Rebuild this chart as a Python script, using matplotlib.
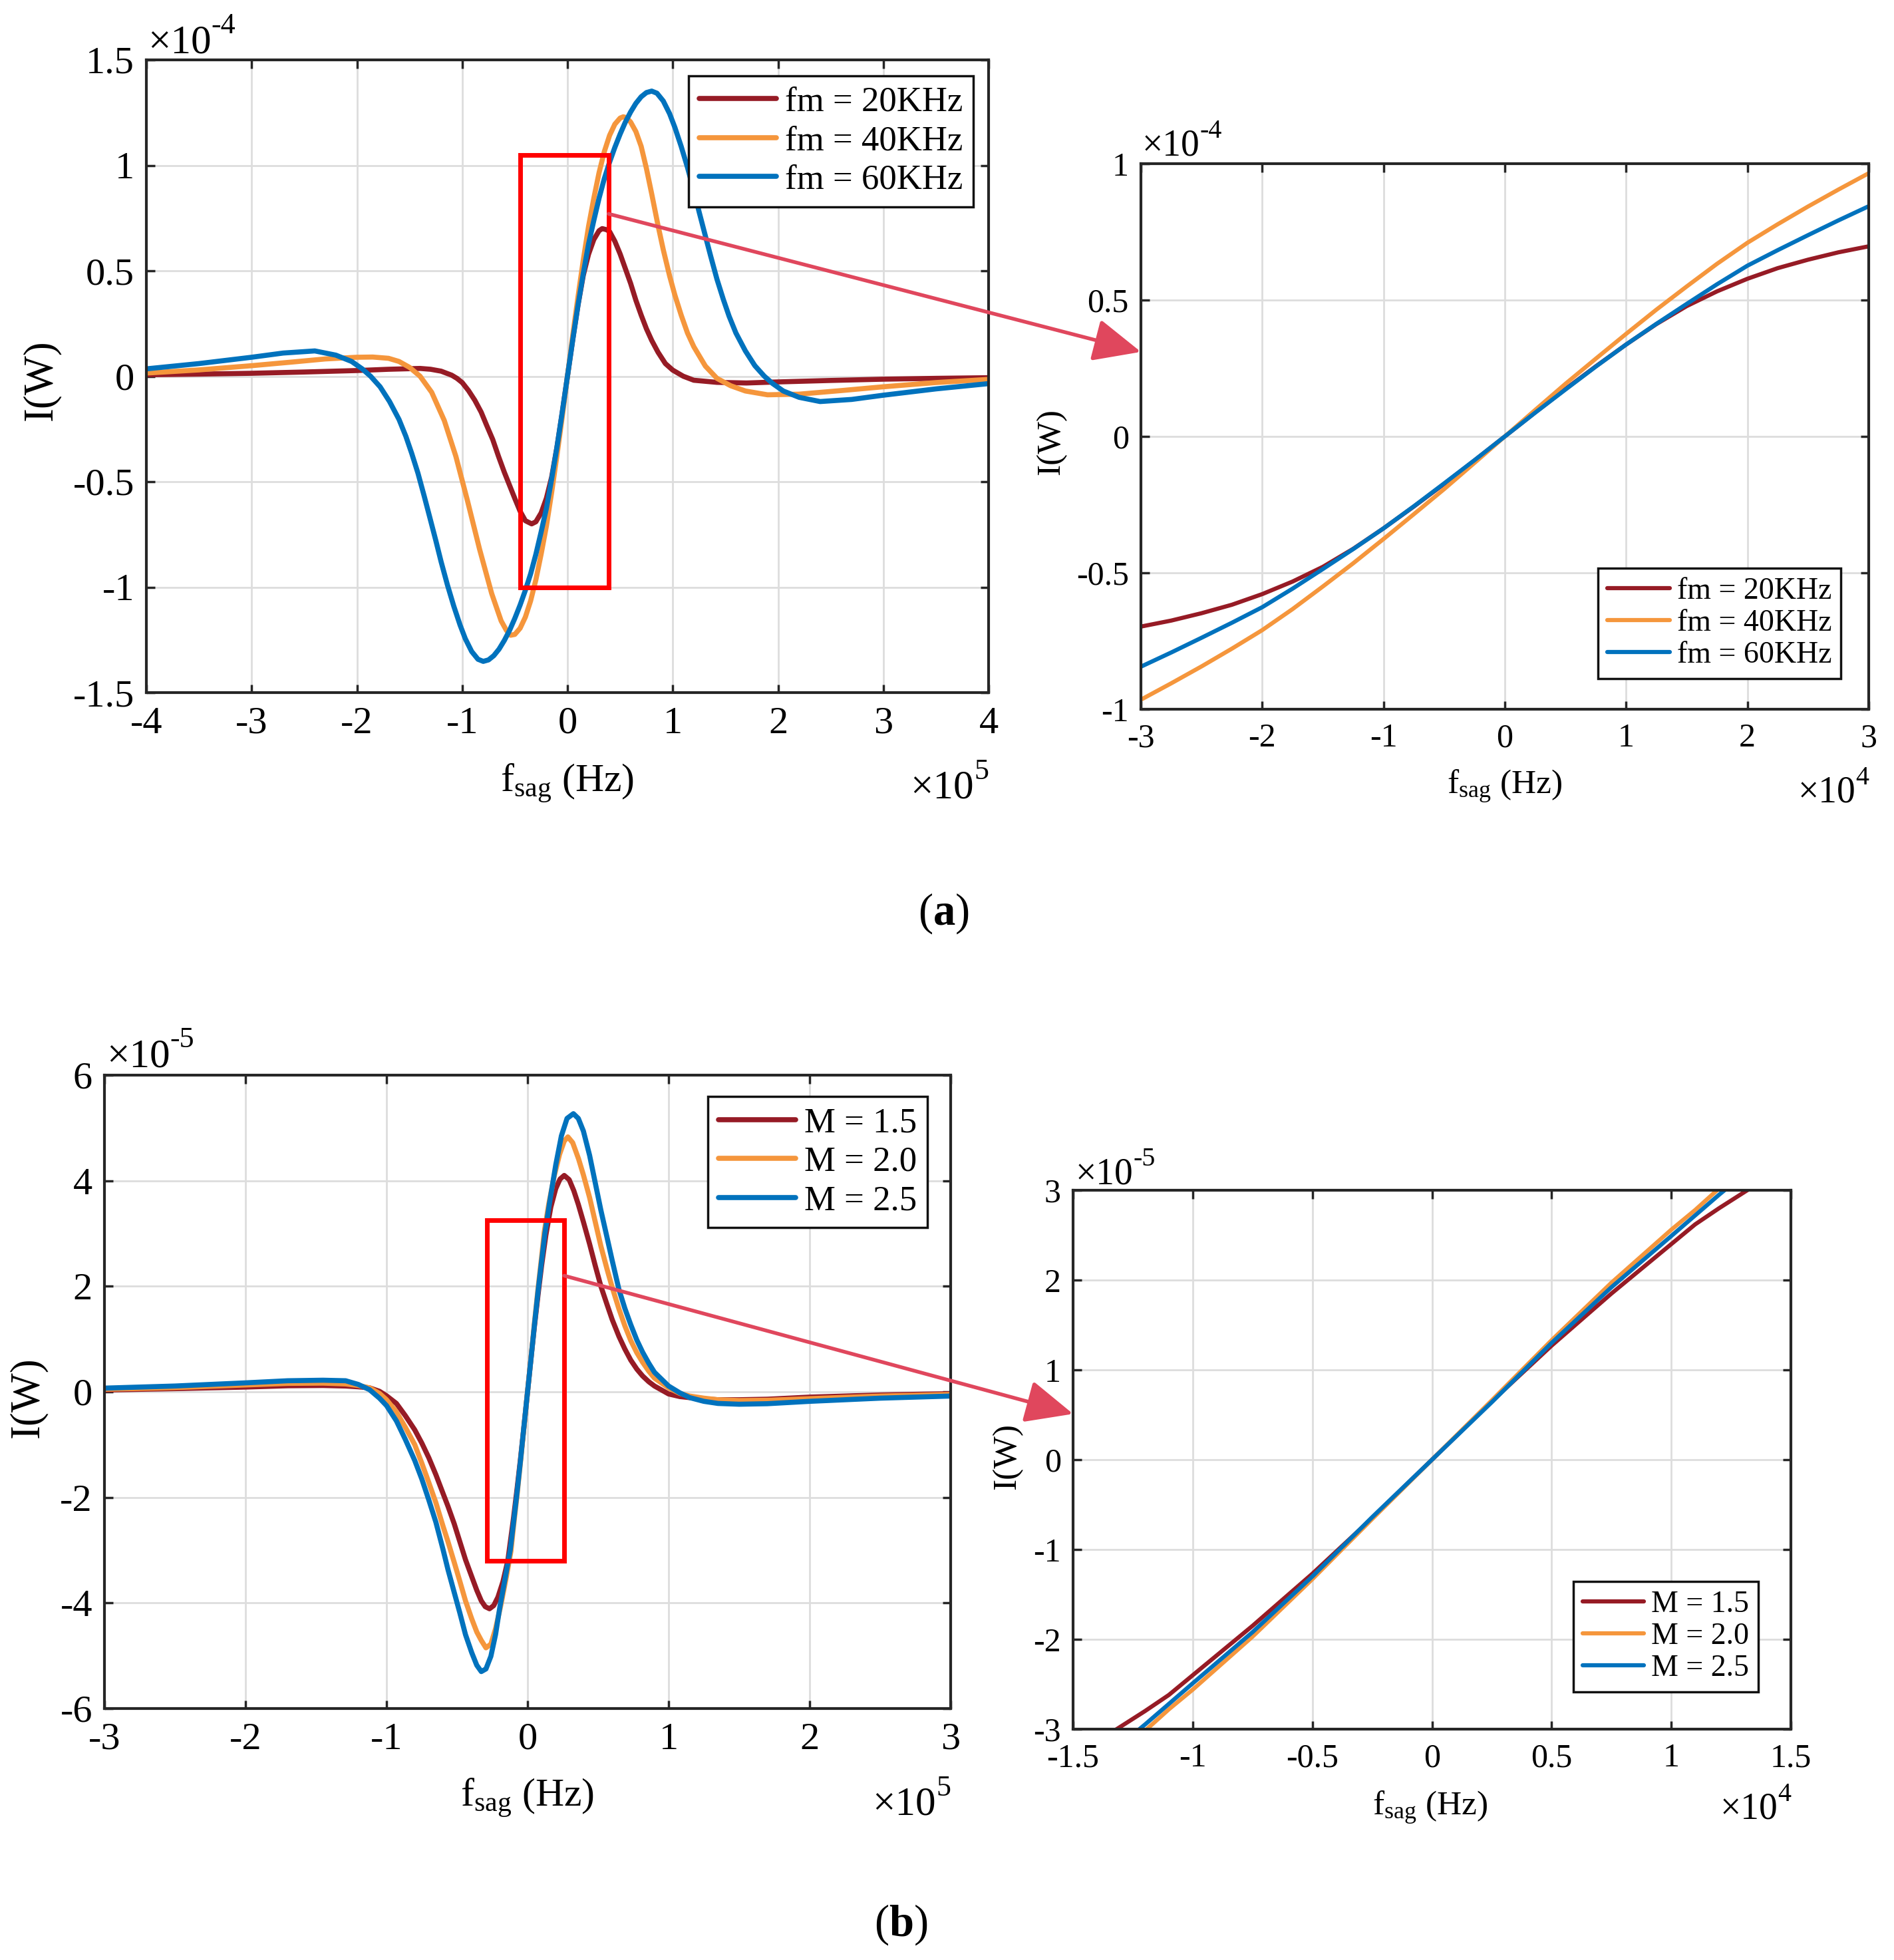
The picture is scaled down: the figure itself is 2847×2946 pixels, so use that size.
import matplotlib
matplotlib.use("Agg")
import matplotlib.pyplot as plt
from matplotlib.patches import Rectangle, ConnectionPatch, ArrowStyle

plt.rcParams['font.family'] = ['Liberation Serif', 'DejaVu Serif']
plt.rcParams['mathtext.fontset'] = 'custom'
plt.rcParams['mathtext.rm'] = 'Liberation Serif'
plt.rcParams['mathtext.it'] = 'Liberation Serif:italic'
plt.rcParams['mathtext.bf'] = 'Liberation Serif:bold'
plt.rcParams['axes.unicode_minus'] = False

# ---------------- DATA ----------------
# Panel (a) main: x in 1e5 Hz, y in 1e-4 W
labels_a = ['fm = 20KHz', 'fm = 40KHz', 'fm = 60KHz']
xa_20 = [-4.0, -3.5, -3.0, -2.5, -2.0, -1.7, -1.4, -1.3, -1.2, -1.1, -1.05, -1.0, -0.94, -0.88, -0.82, -0.77,
         -0.71, -0.655, -0.6, -0.54, -0.5, -0.45, -0.4, -0.34, -0.3, -0.25, -0.2, -0.15, -0.1, -0.05, 0.0,
         0.05, 0.1, 0.15, 0.2, 0.25, 0.3, 0.33, 0.37, 0.4, 0.45, 0.5, 0.55, 0.6, 0.65, 0.7, 0.75, 0.8,
         0.86, 0.93, 1.0, 1.1, 1.2, 1.42, 1.7, 2.0, 2.5, 3.0, 3.5, 4.0]
ya_20 = [0.007, 0.01, 0.014, 0.02, 0.027, 0.033, 0.037, 0.033, 0.024, 0.005, -0.01, -0.03, -0.068, -0.114, -0.17, -0.23,
         -0.30, -0.38, -0.455, -0.53, -0.58, -0.64, -0.685, -0.70, -0.69, -0.648, -0.578, -0.478, -0.337, -0.174, 0.0,
         0.174, 0.337, 0.478, 0.578, 0.648, 0.69, 0.70, 0.695, 0.686, 0.64, 0.58, 0.51, 0.44, 0.36, 0.29, 0.225, 0.17,
         0.114, 0.06, 0.029, 0.0, -0.019, -0.029, -0.032, -0.027, -0.02, -0.014, -0.01, -0.007]
xa_40 = [-4.0, -3.5, -3.0, -2.6, -2.3, -2.0, -1.85, -1.7, -1.6, -1.5, -1.4, -1.29, -1.17, -1.06, -0.95, -0.835,
         -0.72, -0.63, -0.58, -0.54, -0.5, -0.45, -0.4, -0.35, -0.3, -0.25, -0.2, -0.15, -0.1, -0.05, 0.0,
         0.05, 0.1, 0.15, 0.2, 0.25, 0.3, 0.35, 0.4, 0.45, 0.5, 0.53, 0.56, 0.6, 0.65, 0.7, 0.75, 0.8, 0.858,
         0.91, 0.97, 1.02, 1.08, 1.14, 1.2, 1.31, 1.42, 1.55, 1.69, 1.9, 2.2, 2.6, 3.0, 3.5, 4.0]
ya_40 = [0.015, 0.03, 0.05, 0.068, 0.082, 0.09, 0.091, 0.085, 0.07, 0.042, 0.0, -0.076, -0.21, -0.38, -0.59, -0.82,
         -1.03, -1.16, -1.205, -1.228, -1.224, -1.195, -1.142, -1.065, -0.965, -0.843, -0.71, -0.55, -0.376, -0.193, 0.0,
         0.193, 0.376, 0.55, 0.71, 0.843, 0.965, 1.065, 1.142, 1.195, 1.224, 1.23, 1.226, 1.205, 1.16, 1.09, 0.985, 0.865, 0.72,
         0.60, 0.476, 0.385, 0.29, 0.205, 0.14, 0.048, -0.01, -0.045, -0.07, -0.088, -0.085, -0.068, -0.05, -0.03, -0.015]
xa_60 = [-4.0, -3.5, -3.0, -2.7, -2.4, -2.2, -2.05, -1.95, -1.87, -1.78, -1.69, -1.6, -1.535, -1.48, -1.42, -1.36,
         -1.31, -1.25, -1.2, -1.14, -1.08, -1.02, -0.97, -0.91, -0.85, -0.8, -0.75, -0.7, -0.65, -0.6, -0.55, -0.5,
         -0.45, -0.4, -0.35, -0.3, -0.25, -0.2, -0.15, -0.1, -0.05, 0.0,
         0.05, 0.1, 0.15, 0.2, 0.25, 0.3, 0.35, 0.4, 0.45, 0.5, 0.55, 0.6, 0.65, 0.7, 0.75, 0.8, 0.85, 0.91, 0.97,
         1.02, 1.08, 1.14, 1.2, 1.25, 1.31, 1.36, 1.42, 1.48, 1.535, 1.6, 1.69, 1.78, 1.87, 1.95, 2.05, 2.2, 2.4,
         2.7, 3.0, 3.5, 4.0]
ya_60 = [0.035, 0.06, 0.09, 0.11, 0.12, 0.10, 0.07, 0.035, 0.0, -0.05, -0.12, -0.205, -0.285, -0.365, -0.46, -0.57,
         -0.665, -0.78, -0.88, -0.99, -1.09, -1.18, -1.245, -1.305, -1.342, -1.352, -1.345, -1.325, -1.294, -1.253, -1.205, -1.148,
         -1.085, -1.015, -0.937, -0.844, -0.738, -0.626, -0.486, -0.337, -0.172, 0.0,
         0.172, 0.337, 0.486, 0.626, 0.738, 0.844, 0.937, 1.015, 1.085, 1.148, 1.205, 1.253, 1.294, 1.325, 1.345, 1.352, 1.342, 1.305, 1.245,
         1.18, 1.09, 0.99, 0.88, 0.78, 0.665, 0.57, 0.46, 0.365, 0.285, 0.205, 0.12, 0.05, 0.0, -0.035, -0.07, -0.10, -0.12,
         -0.11, -0.09, -0.06, -0.035]

# Panel (a) zoom: x in 1e4 Hz, y in 1e-4 W
xz_a = [-3.0, -2.75, -2.5, -2.25, -2.0, -1.75, -1.5, -1.25, -1.0, -0.75, -0.5, -0.25, 0.0,
        0.25, 0.5, 0.75, 1.0, 1.25, 1.5, 1.75, 2.0, 2.25, 2.5, 2.75, 3.0]
yz_a20 = [-0.697, -0.675, -0.648, -0.617, -0.578, -0.532, -0.478, -0.412, -0.337, -0.257, -0.174, -0.088, 0.0,
          0.088, 0.174, 0.257, 0.337, 0.412, 0.478, 0.532, 0.578, 0.617, 0.648, 0.675, 0.697]
yz_a40 = [-0.965, -0.905, -0.843, -0.778, -0.710, -0.633, -0.550, -0.465, -0.376, -0.285, -0.193, -0.097, 0.0,
          0.097, 0.193, 0.285, 0.376, 0.465, 0.550, 0.633, 0.710, 0.778, 0.843, 0.905, 0.965]
yz_a60 = [-0.844, -0.792, -0.738, -0.683, -0.626, -0.558, -0.486, -0.413, -0.337, -0.256, -0.172, -0.087, 0.0,
          0.087, 0.172, 0.256, 0.337, 0.413, 0.486, 0.558, 0.626, 0.683, 0.738, 0.792, 0.844]

# Panel (b) main: x in 1e5 Hz, y in 1e-5 W
labels_b = ['M = 1.5', 'M = 2.0', 'M = 2.5']
xb_15 = [-3.0, -2.5, -2.0, -1.7, -1.45, -1.29, -1.2, -1.12, -1.05, -1.0, -0.93, -0.867, -0.8, -0.75, -0.7,
         -0.65, -0.6, -0.564, -0.52, -0.48, -0.44, -0.396, -0.36, -0.328, -0.3, -0.27, -0.24, -0.21, -0.175,
         -0.14, -0.1, -0.075, -0.05, -0.025, 0.0,
         0.025, 0.05, 0.075, 0.1, 0.13, 0.165, 0.2, 0.23, 0.26, 0.295, 0.328, 0.36, 0.396, 0.44, 0.48, 0.52,
         0.564, 0.6, 0.648, 0.69, 0.732, 0.775, 0.816, 0.86, 0.9, 1.0, 1.08, 1.15, 1.25, 1.35, 1.5, 1.7, 2.0,
         2.5, 3.0]
yb_15 = [0.035, 0.06, 0.09, 0.115, 0.12, 0.11, 0.095, 0.075, 0.01, -0.075, -0.22, -0.45, -0.72, -0.97, -1.25,
         -1.57, -1.92, -2.17, -2.5, -2.84, -3.18, -3.5, -3.76, -3.96, -4.07, -4.11, -4.05, -3.89, -3.6,
         -3.2, -2.40, -1.85, -1.27, -0.65, 0.0,
         0.65, 1.27, 1.85, 2.40, 2.97, 3.5, 3.85, 4.03, 4.10, 4.02, 3.81, 3.55, 3.22, 2.80, 2.39, 2.0,
         1.65, 1.37, 1.05, 0.81, 0.6, 0.43, 0.3, 0.19, 0.11, -0.04, -0.09, -0.11, -0.135, -0.15, -0.15, -0.14, -0.10,
         -0.06, -0.035]
xb_20 = [-3.0, -2.5, -2.0, -1.7, -1.45, -1.29, -1.2, -1.12, -1.05, -1.0, -0.93, -0.867, -0.8, -0.75, -0.7,
         -0.65, -0.6, -0.564, -0.52, -0.48, -0.44, -0.396, -0.36, -0.328, -0.295, -0.26, -0.227, -0.19, -0.15,
         -0.118, -0.1, -0.075, -0.05, -0.025, 0.0,
         0.025, 0.05, 0.075, 0.1, 0.118, 0.15, 0.19, 0.227, 0.26, 0.286, 0.32, 0.362, 0.396, 0.44, 0.48, 0.52,
         0.564, 0.6, 0.648, 0.69, 0.732, 0.775, 0.816, 0.86, 0.9, 1.0, 1.08, 1.15, 1.25, 1.35, 1.5, 1.7, 2.0,
         2.5, 3.0]
yb_20 = [0.05, 0.08, 0.13, 0.16, 0.165, 0.15, 0.12, 0.075, -0.03, -0.15, -0.38, -0.67, -1.0, -1.35, -1.72,
         -2.1, -2.54, -2.84, -3.23, -3.59, -3.96, -4.3, -4.55, -4.71, -4.85, -4.78, -4.49, -4.05, -3.5,
         -3.02, -2.56, -1.97, -1.33, -0.66, 0.0,
         0.66, 1.33, 1.97, 2.56, 3.02, 3.55, 4.1, 4.5, 4.75, 4.83, 4.72, 4.41, 4.11, 3.68, 3.22, 2.76,
         2.32, 1.98, 1.57, 1.25, 0.97, 0.74, 0.56, 0.39, 0.26, 0.075, -0.03, -0.08, -0.12, -0.15, -0.165, -0.16, -0.13,
         -0.08, -0.05]
xb_25 = [-3.0, -2.5, -2.0, -1.7, -1.45, -1.29, -1.2, -1.12, -1.05, -1.0, -0.93, -0.867, -0.8, -0.75, -0.7,
         -0.65, -0.6, -0.564, -0.52, -0.48, -0.44, -0.396, -0.36, -0.328, -0.295, -0.26, -0.227, -0.194, -0.16,
         -0.123, -0.1, -0.075, -0.05, -0.025, 0.0,
         0.025, 0.05, 0.075, 0.1, 0.123, 0.16, 0.2, 0.24, 0.28, 0.325, 0.36, 0.396, 0.44, 0.48, 0.52,
         0.564, 0.6, 0.648, 0.69, 0.732, 0.775, 0.816, 0.86, 0.9, 1.0, 1.08, 1.15, 1.25, 1.35, 1.5, 1.7, 2.0,
         2.5, 3.0]
yb_25 = [0.07, 0.11, 0.17, 0.21, 0.22, 0.21, 0.14, 0.04, -0.12, -0.26, -0.55, -0.9, -1.3, -1.65, -2.05,
         -2.47, -2.98, -3.37, -3.8, -4.19, -4.6, -4.94, -5.18, -5.3, -5.25, -5.01, -4.6, -4.04, -3.55,
         -3.0, -2.49, -1.92, -1.30, -0.64, 0.0,
         0.64, 1.30, 1.92, 2.49, 3.0, 3.65, 4.3, 4.85, 5.18, 5.27, 5.18, 4.94, 4.48, 3.96, 3.44,
         2.92, 2.49, 1.94, 1.58, 1.27, 0.98, 0.75, 0.54, 0.37, 0.11, -0.02, -0.11, -0.18, -0.22, -0.235, -0.225, -0.18,
         -0.12, -0.08]

# Panel (b) zoom: x in 1e4 Hz, y in 1e-5 W
xz_b = [-1.4, -1.3, -1.2, -1.1, -1.0, -0.75, -0.5, -0.25, 0.0, 0.25, 0.5, 0.75, 1.0, 1.1, 1.2, 1.3, 1.4]
yz_b15 = [-3.14, -2.97, -2.80, -2.62, -2.40, -1.85, -1.27, -0.65, 0.0, 0.65, 1.27, 1.85, 2.40, 2.62, 2.80, 2.97, 3.14]
yz_b20 = [-3.50, -3.26, -3.02, -2.78, -2.56, -1.97, -1.33, -0.66, 0.0, 0.66, 1.33, 1.97, 2.56, 2.78, 3.02, 3.26, 3.50]
yz_b25 = [-3.40, -3.17, -2.95, -2.72, -2.49, -1.92, -1.30, -0.64, 0.0, 0.64, 1.30, 1.92, 2.49, 2.72, 2.95, 3.17, 3.40]

# ticks
xt_a = [-4, -3, -2, -1, 0, 1, 2, 3, 4]
yt_a = [-1.5, -1, -0.5, 0, 0.5, 1, 1.5]
xt_az = [-3, -2, -1, 0, 1, 2, 3]
yt_az = [-1, -0.5, 0, 0.5, 1]
xt_b = [-3, -2, -1, 0, 1, 2, 3]
yt_b = [-6, -4, -2, 0, 2, 4, 6]
xt_bz = [-1.5, -1, -0.5, 0, 0.5, 1, 1.5]
yt_bz = [-3, -2, -1, 0, 1, 2, 3]

colors = ['#961B25', '#F5963C', '#0072BD']

# ---------------- FIGURE ----------------
W, H = 2847, 2946
fig = plt.figure(figsize=(W / 100, H / 100), dpi=100)
fig.patch.set_facecolor('white')


def rect(x0, y0, x1, y1):
    return [x0 / W, 1 - y1 / H, (x1 - x0) / W, (y1 - y0) / H]


def lab(v):
    return ('%g' % v)


def style(ax, xt, yt, xl, yl, fs, pad_x, pad_y):
    ax.set_xticks(xt, [lab(v) for v in xt])
    ax.set_yticks(yt, [lab(v) for v in yt])
    ax.set_xlim(xl)
    ax.set_ylim(yl)
    ax.tick_params(direction='in', top=True, right=True, length=9, width=2.5,
                   color='#262626', labelsize=fs)
    ax.tick_params(axis='x', pad=pad_x)
    ax.tick_params(axis='y', pad=pad_y)
    ax.grid(True, color='#DDDDDD', lw=2)
    ax.set_axisbelow(True)
    for s in ax.spines.values():
        s.set_linewidth(3)
        s.set_color('#262626')


def ftext(x, y, s, **kw):
    return fig.text(x / W, 1 - y / H, s, **kw)


renderer = fig.canvas.get_renderer()


def sci(xpx, ypx, exp, fs, align):
    t1 = fig.text(0, 0, '\u00d710', fontsize=fs, ha='left', va='baseline')
    t2 = fig.text(0, 0, exp, fontsize=fs * 0.72, ha='left', va='baseline')
    w1 = t1.get_window_extent(renderer).width
    w2 = t2.get_window_extent(renderer).width
    x0 = xpx if align == 'left' else xpx - w1 - w2
    t1.set_position((x0 / W, 1 - ypx / H))
    t2.set_position(((x0 + w1) / W, 1 - (ypx - fs * 0.48 * 100 / 72) / H))


leg_kw = dict(frameon=True, fancybox=False, framealpha=1, edgecolor='#111111',
              borderpad=0.3, handletextpad=0.25, borderaxespad=0)
line_kw = dict(solid_capstyle='round', solid_joinstyle='round')

# ---- (a) main
axA = fig.add_axes(rect(220, 90, 1486, 1041))
for xs, ys, c, l in zip([xa_20, xa_40, xa_60], [ya_20, ya_40, ya_60], colors, labels_a):
    axA.plot(xs, ys, color=c, lw=5.5, label=l, **line_kw)
style(axA, xt_a, yt_a, (-4, 4), (-1.5, 1.5), 42, 15, 13)
lg = axA.legend(loc='upper right', bbox_to_anchor=(0.982, 0.975), fontsize=38, handlelength=2.2,
                labelspacing=0.2, **leg_kw)
lg.get_frame().set_linewidth(2.5)
axA.add_patch(Rectangle((-0.45, -1.0), 0.84, 2.05, fill=False, ec='#FF0000', lw=5, zorder=5))

# ---- (a) zoom
axA2 = fig.add_axes(rect(1715, 246, 2809, 1066))
for ys, c, l in zip([yz_a20, yz_a40, yz_a60], colors, labels_a):
    axA2.plot(xz_a, ys, color=c, lw=4.5, label=l, **line_kw)
style(axA2, xt_az, yt_az, (-3, 3), (-1, 1), 36, 15, 13)
lg = axA2.legend(loc='lower right', bbox_to_anchor=(0.962, 0.056), fontsize=33, handlelength=2.05,
                 labelspacing=0.12, **leg_kw)
lg.get_frame().set_linewidth(2.5)

# ---- (b) main
axB = fig.add_axes(rect(157, 1616, 1429, 2568))
for xs, ys, c, l in zip([xb_15, xb_20, xb_25], [yb_15, yb_20, yb_25], colors, labels_b):
    axB.plot(xs, ys, color=c, lw=5.5, label=l, **line_kw)
style(axB, xt_b, yt_b, (-3, 3), (-6, 6), 42, 15, 13)
lg = axB.legend(loc='upper right', bbox_to_anchor=(0.9725, 0.966), fontsize=38, handlelength=2.2,
                labelspacing=0.2, **leg_kw)
lg.get_frame().set_linewidth(2.5)
axB.add_patch(Rectangle((-0.29, -3.2), 0.55, 6.45, fill=False, ec='#FF0000', lw=5, zorder=5))

# ---- (b) zoom
axB2 = fig.add_axes(rect(1613, 1789, 2692, 2599))
for ys, c, l in zip([yz_b15, yz_b20, yz_b25], colors, labels_b):
    axB2.plot(xz_b, ys, color=c, lw=4.5, label=l, **line_kw)
style(axB2, xt_bz, yt_bz, (-1.5, 1.5), (-3, 3), 36, 15, 13)
lg = axB2.legend(loc='lower right', bbox_to_anchor=(0.9546, 0.069), fontsize=33, handlelength=2.0,
                 labelspacing=0.12, **leg_kw)
lg.get_frame().set_linewidth(2.5)

# ---- arrows
ast = ArrowStyle('-|>', head_length=1.0, head_width=0.45)
for (a1, p1, a2, p2) in [(axA, (0.39, 0.77), axA2, (-3, 0.31)), (axB, (0.26, 2.2), axB2, (-1.5, 0.51))]:
    cp = ConnectionPatch(xyA=p1, coordsA=a1.transData, xyB=p2, coordsB=a2.transData,
                         arrowstyle=ast, mutation_scale=44, color='#E0475D', lw=4,
                         shrinkA=0, shrinkB=0, zorder=10)
    cp.set_clip_on(False)
    fig.add_artist(cp)

# ---- texts
sag = r'f$_{\mathregular{sag}}$ (Hz)'
ftext(62, 571, 'I(W)', rotation=90, ha='center', va='center', fontsize=45)
ftext(853, 1190, sag, ha='center', va='baseline', fontsize=43)
sci(1486, 1200, '5', 44, 'right')
sci(222, 79, '-4', 44, 'left')

ftext(1580, 664, 'I(W)', rotation=90, ha='center', va='center', fontsize=37)
ftext(2262, 1193, sag, ha='center', va='baseline', fontsize=37)
sci(2809, 1206, '4', 40, 'right')
sci(1717, 234, '-4', 40, 'left')

ftext(42, 2100, 'I(W)', rotation=90, ha='center', va='center', fontsize=45)
ftext(793, 2715, sag, ha='center', va='baseline', fontsize=43)
sci(1429, 2728, '5', 44, 'right')
sci(160, 1603, '-5', 44, 'left')

ftext(1514, 2189, 'I(W)', rotation=90, ha='center', va='center', fontsize=37)
ftext(2150, 2728, sag, ha='center', va='baseline', fontsize=37)
sci(2692, 2734, '4', 40, 'right')
sci(1617, 1779, '-5', 40, 'left')

ftext(1418, 1373, r'($\mathbf{a}$)', ha='center', va='center', fontsize=48)
ftext(1354, 2893, r'($\mathbf{b}$)', ha='center', va='center', fontsize=48)

fig.savefig('out.png', dpi=100, facecolor='white')
